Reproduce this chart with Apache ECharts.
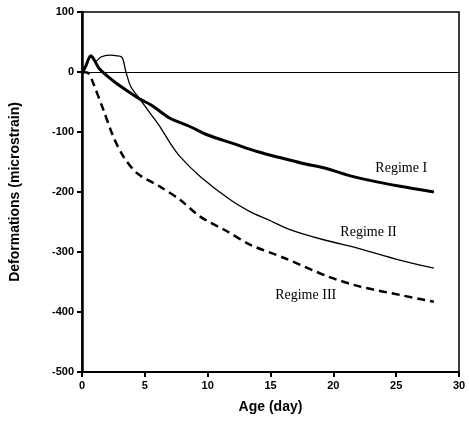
<!DOCTYPE html>
<html>
<head>
<meta charset="utf-8">
<script src="https://cdn.jsdelivr.net/npm/echarts@6/dist/echarts.min.js"></script>
<style>
  html, body { margin: 0; padding: 0; background: #fff; }
  #container { width: 469px; height: 423px; }
</style>
</head>
<body>
<div id="container"></div>
<script>
// days / microstrain
var regime1 = [[0, -3], [0.3, 10], [0.7, 27], [1.4, 5], [2.5, -15], [3.5, -30], [4.6, -45],
  [5.5, -55], [7, -77], [8.5, -90], [10, -105], [12, -119], [14, -133], [15.8, -143],
  [17.5, -152], [19.3, -160], [21, -171], [23, -181], [25.2, -190], [28, -200]];
var regime2 = [[0, -3], [0.3, 10], [0.7, 25], [1.1, 18], [1.5, 25], [2.2, 28], [2.8, 27],
  [3.2, 24], [3.5, 0], [3.9, -25], [4.6, -45], [5.4, -68], [6.2, -91], [7, -118],
  [7.8, -141], [9.4, -174], [11.8, -213], [13.4, -233], [14.8, -246], [16.6, -263],
  [19.3, -280], [22, -294], [25.2, -313], [28, -327]];
var regime3 = [[0, 0], [0.5, -2], [0.9, -19], [1.7, -63], [2.5, -108], [3.3, -141],
  [4.4, -169], [6.2, -191], [7.8, -213], [9.4, -241], [11.5, -265], [13.4, -288],
  [16.1, -310], [19.6, -341], [22.2, -358], [25.4, -372], [28, -383]];
var seriesNames = ['Regime I', 'Regime II', 'Regime III'];
var labelAt = [[25.4, -161], [22.8, -267], [17.8, -372]];
var xTicks = [0, 30, 5];
var yTicks = [-500, 100, 100];

var chart = echarts.init(document.getElementById('container'));

var axisText = { color: '#000', fontFamily: 'Liberation Sans, Arial', fontWeight: 'bold', fontSize: 11 };

function mkLabel(i) {
  return {
    symbol: 'circle', symbolSize: 0, silent: true,
    label: { show: true, position: 'inside', formatter: seriesNames[i],
      fontFamily: 'Liberation Serif, Times New Roman, serif', fontSize: 14, color: '#000' },
    data: [{ coord: labelAt[i] }]
  };
}

chart.setOption({
  animation: false,
  grid: { left: 82, right: 10, top: 12, bottom: 51, show: true, borderColor: '#000', borderWidth: 1.5 },
  xAxis: {
    type: 'value', min: xTicks[0], max: xTicks[1], interval: xTicks[2],
    name: 'Age (day)', nameLocation: 'middle', nameGap: 28,
    nameTextStyle: { color: '#000', fontFamily: 'Liberation Sans, Arial', fontWeight: 'bold', fontSize: 14 },
    axisLine: { onZero: false, lineStyle: { color: '#000', width: 2 } },
    axisTick: { length: 5, lineStyle: { color: '#000', width: 2 } },
    axisLabel: Object.assign({ margin: 8 }, axisText),
    splitLine: { show: false }
  },
  yAxis: {
    type: 'value', min: yTicks[0], max: yTicks[1], interval: yTicks[2],
    name: 'Deformations (microstrain)', nameLocation: 'middle', nameGap: 60,
    nameTextStyle: { color: '#000', fontFamily: 'Liberation Sans, Arial', fontWeight: 'bold', fontSize: 14 },
    axisLine: { onZero: false, lineStyle: { color: '#000', width: 2.5 } },
    axisTick: { length: 5, lineStyle: { color: '#000', width: 2 } },
    axisLabel: Object.assign({ margin: 8 }, axisText),
    splitLine: { show: false }
  },
  series: [
    {
      name: seriesNames[0], type: 'line', data: regime1, showSymbol: false, smooth: 0.3,
      lineStyle: { color: '#000', width: 3 },
      markPoint: mkLabel(0),
      markLine: {
        silent: true, symbol: 'none', label: { show: false },
        lineStyle: { color: '#000', width: 1.2, type: 'solid' },
        data: [{ yAxis: 0 }]
      }
    },
    {
      name: seriesNames[1], type: 'line', data: regime2, showSymbol: false, smooth: 0.3,
      lineStyle: { color: '#000', width: 1.3 },
      markPoint: mkLabel(1)
    },
    {
      name: seriesNames[2], type: 'line', data: regime3, showSymbol: false, smooth: 0.3,
      lineStyle: { color: '#000', width: 2.5, type: [8, 5] },
      markPoint: mkLabel(2)
    }
  ]
});
</script>
</body>
</html>
